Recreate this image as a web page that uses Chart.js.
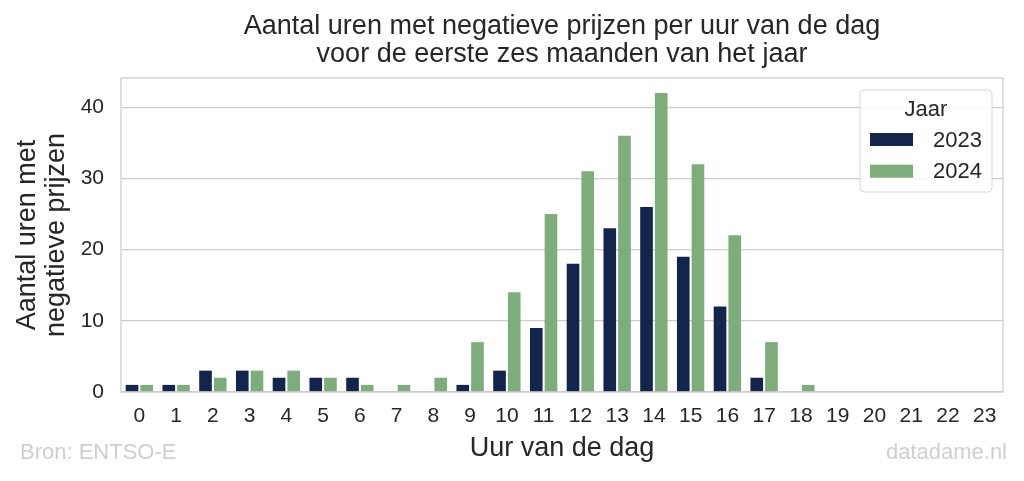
<!DOCTYPE html>
<html>
<head>
<meta charset="utf-8">
<script src="https://cdn.jsdelivr.net/npm/chart.js@4"></script>
<style>
html,body{margin:0;padding:0;background:#fff;}
#wrap{width:1024px;height:481px;position:relative;}
</style>
</head>
<body>
<div id="wrap"><canvas id="c" width="1024" height="481"></canvas></div>
<script>
const hours = ['0','1','2','3','4','5','6','7','8','9','10','11','12','13','14','15','16','17','18','19','20','21','22','23'];
const values2023 = [1,1,3,3,2,2,2,0,0,1,3,9,18,23,26,19,12,2,0,0,0,0,0,0];
const values2024 = [1,1,2,3,3,2,1,1,2,7,14,25,31,36,42,32,22,7,1,0,0,0,0,0];
const seriesLabels = ['2023','2024'];
const yTicks = [0,10,20,30,40];
const titleLines = ['Aantal uren met negatieve prijzen per uur van de dag','voor de eerste zes maanden van het jaar'];
const xTitle = 'Uur van de dag';
const yTitle = ['Aantal uren met','negatieve prijzen'];
const legendTitle = 'Jaar';
const sourceText = 'Bron: ENTSO-E';
const creditText = 'datadame.nl';

const FONT = '"Liberation Sans", Arial, sans-serif';
const TXT = '#262626';
const GRID = '#cccccc';
const colors = ['#13244d','#7dad7b'];

const decor = {
  id: 'decor',
  afterDraw(chart) {
    const {ctx, chartArea: a} = chart;
    ctx.save();
    // frame
    ctx.strokeStyle = GRID;
    ctx.lineWidth = 1.25;
    ctx.strokeRect(a.left, a.top, a.right - a.left, a.bottom - a.top);
    // title
    ctx.fillStyle = TXT;
    ctx.font = '27px ' + FONT;
    ctx.textAlign = 'center';
    ctx.textBaseline = 'middle';
    const cx = (a.left + a.right) / 2;
    ctx.fillText(titleLines[0], cx, 27);
    ctx.fillText(titleLines[1], cx, 55);
    // footers
    ctx.fillStyle = '#cfcfcf';
    ctx.font = '22px ' + FONT;
    ctx.textAlign = 'left';
    ctx.fillText(sourceText, 20, 453);
    ctx.textAlign = 'right';
    ctx.fillText(creditText, 1007, 453);
    // legend
    const lx = 860, ly = 90, lw = 132, lh = 102, r = 4;
    ctx.beginPath();
    ctx.moveTo(lx + r, ly);
    ctx.arcTo(lx + lw, ly, lx + lw, ly + lh, r);
    ctx.arcTo(lx + lw, ly + lh, lx, ly + lh, r);
    ctx.arcTo(lx, ly + lh, lx, ly, r);
    ctx.arcTo(lx, ly, lx + lw, ly, r);
    ctx.closePath();
    ctx.fillStyle = 'rgba(255,255,255,0.85)';
    ctx.fill();
    ctx.strokeStyle = '#d6d6d6';
    ctx.lineWidth = 1;
    ctx.stroke();
    ctx.fillStyle = TXT;
    ctx.font = '22px ' + FONT;
    ctx.textAlign = 'center';
    ctx.fillText(legendTitle, lx + 66, ly + 20);
    chart.data.datasets.forEach((ds, i) => {
      const y = ly + 49.5 + i * 31.7;
      ctx.fillStyle = ds.backgroundColor;
      ctx.fillRect(lx + 10, y - 6.5, 43, 13);
      ctx.fillStyle = TXT;
      ctx.textAlign = 'right';
      ctx.fillText(ds.label, lx + 122, y + 1);
    });
    ctx.restore();
  }
};

new Chart(document.getElementById('c'), {
  type: 'bar',
  data: {
    labels: hours,
    datasets: [
      {label: seriesLabels[0], data: values2023, backgroundColor: colors[0]},
      {label: seriesLabels[1], data: values2024, backgroundColor: colors[1]}
    ]
  },
  options: {
    responsive: false,
    animation: false,
    devicePixelRatio: 1,
    layout: {padding: {top: 78, right: 21, bottom: 0, left: 0}},
    categoryPercentage: 0.8,
    barPercentage: 0.86,
    plugins: {legend: {display: false}, title: {display: false}, tooltip: {enabled: false}},
    scales: {
      x: {
        grid: {display: false, drawTicks: false},
        border: {display: false},
        ticks: {color: TXT, font: {family: FONT, size: 21}, padding: 12, maxRotation: 0, autoSkip: false},
        title: {display: true, text: xTitle, color: TXT, font: {family: FONT, size: 27}, padding: {top: 4, bottom: 16}},
        afterFit(s) { s.height = 89; }
      },
      y: {
        min: 0,
        max: 44.1,
        grid: {color: GRID, lineWidth: 1.25, drawTicks: false},
        border: {display: false},
        ticks: {color: TXT, font: {family: FONT, size: 21}, padding: 17, stepSize: 10},
        afterBuildTicks(s) { s.ticks = yTicks.map(v => ({value: v})); },
        title: {display: true, text: yTitle, color: TXT, font: {family: FONT, size: 27, lineHeight: 1.04}, padding: {top: 14, bottom: 0}},
        afterFit(s) { s.width = 121; }
      }
    }
  },
  plugins: [decor]
});
</script>
</body>
</html>
